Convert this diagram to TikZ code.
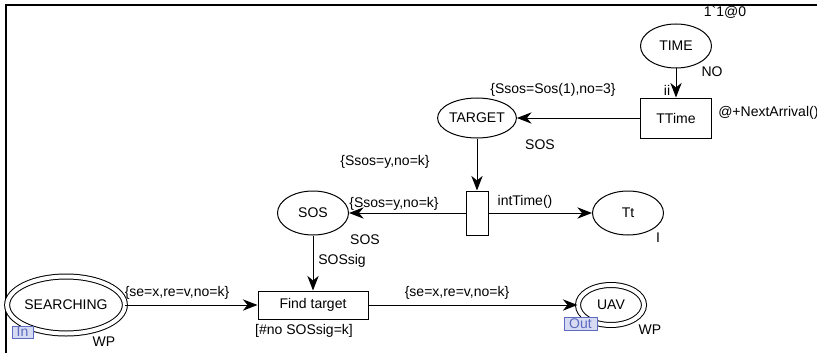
\documentclass[tikz,border=0pt]{standalone}
\usepackage{fontspec}
\setmainfont{Liberation Sans}
\usetikzlibrary{arrows.meta, shapes.geometric}
\definecolor{portfill}{RGB}{214,219,242}
\definecolor{portline}{RGB}{92,106,192}

\begin{document}
\begin{tikzpicture}[x=0.75pt, y=-0.75pt, font=\fontsize{10.5}{12}\selectfont,
        place/.style={draw, ellipse, line width=0.75pt, inner sep=0pt},
        fusion/.style={place, double, double distance=3pt},
        trans/.style={draw, rectangle, line width=0.75pt, inner sep=0pt},
        port/.style={draw=portline, fill=portfill, text=portline, line width=0.75pt, inner sep=0pt},
        inscr/.style={inner sep=0pt},
        arc/.style={line width=0.75pt, -{Stealth[length=11pt, width=8.5pt, inset=3.5pt]}}]
        \useasboundingbox (0,0) rectangle (817,353);
        \draw[line width=1.5pt] (817,5) -- (6,5) -- (6,353);

        \node[place, minimum width=53.25pt, minimum height=33pt] (time) at (676,46) {TIME};
        \node[trans, minimum width=53.25pt, minimum height=30pt] (ttime) at (676,118) {TTime};
        \node[place, minimum width=54pt, minimum height=30pt] (target) at (477,118) {TARGET};
        \node[trans, minimum width=16.5pt, minimum height=33pt] (split) at (477,213) {};
        \node[place, minimum width=53.25pt, minimum height=33pt] (sos) at (313,213) {SOS};
        \node[place, minimum width=53.25pt, minimum height=33pt] (tt) at (628,213) {Tt};
        \node[trans, minimum width=82.5pt, minimum height=21pt] (find) at (313,305) {Find target};
        \node[fusion, minimum width=81.75pt, minimum height=42.75pt] (searching) at (66,305) {SEARCHING};
        \node[fusion, minimum width=49.5pt, minimum height=30pt] (uav) at (611,305) {UAV};
        \node[port, minimum width=15.75pt, minimum height=9pt] (inport) at (22.5,332) {In};
        \node[port, minimum width=24.75pt, minimum height=9.75pt] (outport) at (580.5,323.5) {Out};

        \draw[arc] (time) -- (ttime);
        \draw[arc] (ttime) -- (target);
        \draw[arc] (target) -- (split);
        \draw[arc] (split) -- (sos);
        \draw[arc] (split) -- (tt);
        \draw[arc] (sos) -- (find);
        \draw[arc] (searching) -- (find);
        \draw[arc] (find) -- (uav);

        \node[inscr] (timeinit) at (725,12) {1\textasciigrave 1@0};
        \node[inscr] (timetype) at (712,72) {NO};
        \node[inscr] (iivar) at (667,90) {ii};
        \node[inscr, right] (delay) at (718,113) {@+NextArrival()};
        \node[inscr] (targetexp) at (553,90) {\{Ssos=Sos(1),no=3\}};
        \node[inscr] (targettype) at (540,145) {SOS};
        \node[inscr] (inexp) at (385,162) {\{Ssos=y,no=k\}};
        \node[inscr] (outexp) at (394,204) {\{Ssos=y,no=k\}};
        \node[inscr] (inttime) at (525,202) {intTime()};
        \node[inscr] (tttype) at (658,238) {I};
        \node[inscr] (sostype) at (365,240) {SOS};
        \node[inscr] (sossig) at (342,261) {SOSsig};
        \node[inscr] (guard) at (304,331) {[\#no SOSsig=k]};
        \node[inscr] (searchexp) at (177,293) {\{se=x,re=v,no=k\}};
        \node[inscr] (uavexp) at (457,293) {\{se=x,re=v,no=k\}};
        \node[inscr] (searchtype) at (104,342) {WP};
        \node[inscr] (uavtype) at (650,330) {WP};
    \end{tikzpicture}
\end{document}
